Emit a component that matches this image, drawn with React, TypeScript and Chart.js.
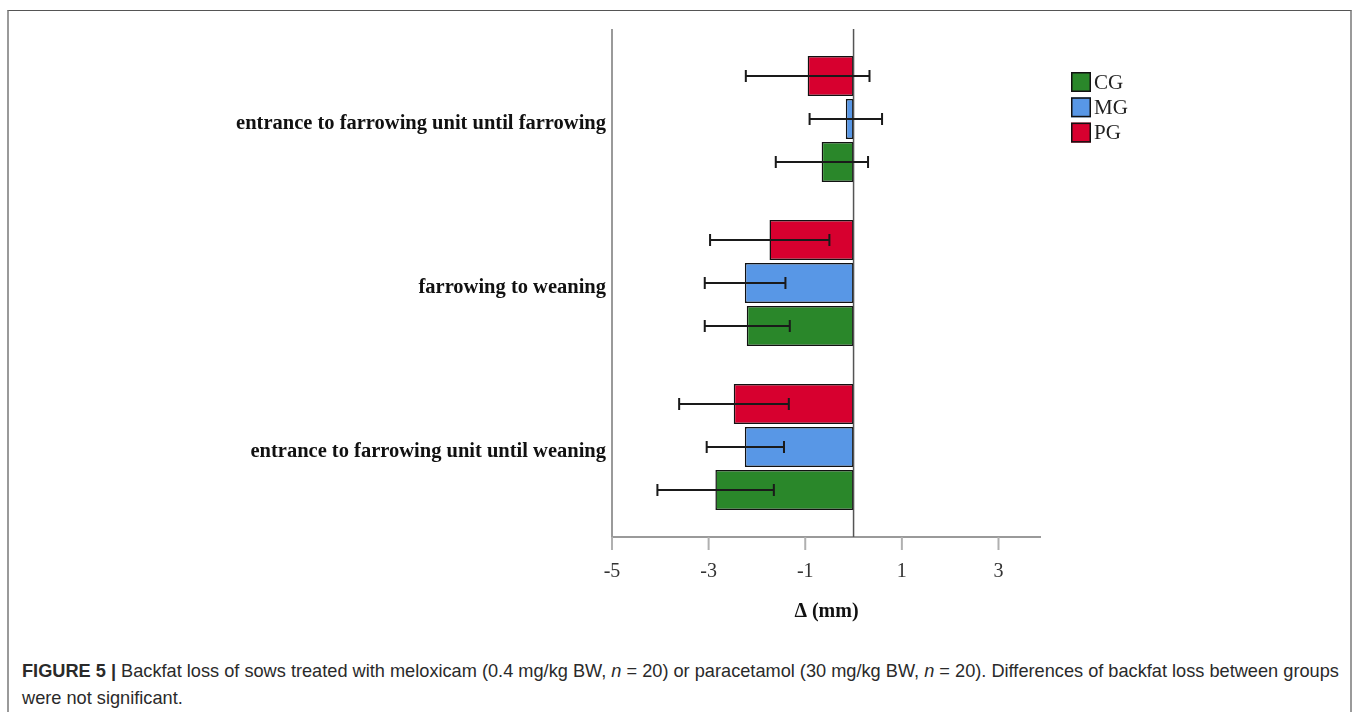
import React, { useEffect, useRef } from "react";
import { Chart, registerables } from "chart.js";

Chart.register(...registerables);

const categories = [
  "entrance to farrowing unit until farrowing",
  "farrowing to weaning",
  "entrance to farrowing unit until weaning",
];

const legendOrder = ["CG", "MG", "PG"];

const pgMean = [-0.95, -1.74, -2.48];
const pgLow = [-2.23, -2.97, -3.61];
const pgHigh = [0.33, -0.5, -1.34];

const mgMean = [-0.16, -2.25, -2.25];
const mgLow = [-0.91, -3.08, -3.04];
const mgHigh = [0.59, -1.41, -1.44];

const cgMean = [-0.66, -2.21, -2.86];
const cgLow = [-1.61, -3.08, -4.06];
const cgHigh = [0.3, -1.32, -1.65];

const xTicks = [-5, -3, -1, 1, 3];
const xMin = -5;
const xMax = 3.88;

const COLORS: Record<string, string> = {
  PG: "#D7002F",
  MG: "#5897E6",
  CG: "#2A872A",
};

const SERIF = '"Liberation Serif", "Times New Roman", serif';

const decorPlugin = {
  id: "decor",
  beforeDatasetsDraw(chart: any) {
    const ctx = chart.ctx;
    const ca = chart.chartArea;
    const xs = chart.scales.x;
    const top = ca.top - 8;
    const bottom = ca.bottom + 8;
    ctx.save();
    ctx.strokeStyle = "#9a9a9a";
    ctx.lineWidth = 2;
    ctx.beginPath();
    ctx.moveTo(ca.left, top);
    ctx.lineTo(ca.left, bottom);
    ctx.stroke();
    ctx.beginPath();
    ctx.moveTo(ca.left, bottom);
    ctx.lineTo(ca.right, bottom);
    ctx.stroke();
    ctx.strokeStyle = "#b0b0b0";
    xTicks.forEach((v) => {
      const px = xs.getPixelForValue(v);
      ctx.beginPath();
      ctx.moveTo(px, bottom);
      ctx.lineTo(px, bottom + 13);
      ctx.stroke();
    });
    ctx.restore();
  },
  afterDatasetsDraw(chart: any) {
    const ctx = chart.ctx;
    const ca = chart.chartArea;
    const xs = chart.scales.x;
    const top = ca.top - 8;
    const bottom = ca.bottom + 8;
    ctx.save();
    const zx = xs.getPixelForValue(0);
    ctx.strokeStyle = "#555";
    ctx.lineWidth = 1.5;
    ctx.beginPath();
    ctx.moveTo(zx, top);
    ctx.lineTo(zx, bottom);
    ctx.stroke();
    ctx.strokeStyle = "#1a1a1a";
    ctx.lineWidth = 2;
    chart.data.datasets.forEach((ds: any, di: number) => {
      const meta = chart.getDatasetMeta(di);
      meta.data.forEach((el: any, i: number) => {
        const y = el.y;
        const x1 = xs.getPixelForValue(ds.errLow[i]);
        const x2 = xs.getPixelForValue(ds.errHigh[i]);
        ctx.beginPath();
        ctx.moveTo(x1, y);
        ctx.lineTo(x2, y);
        ctx.moveTo(x1, y - 6);
        ctx.lineTo(x1, y + 6);
        ctx.moveTo(x2, y - 6);
        ctx.lineTo(x2, y + 6);
        ctx.stroke();
      });
    });
    const lx = 1071;
    let ly = 72;
    ctx.font = "21px " + SERIF;
    ctx.textBaseline = "middle";
    ctx.textAlign = "left";
    legendOrder.forEach((name) => {
      ctx.fillStyle = COLORS[name];
      ctx.fillRect(lx, ly, 20, 20);
      ctx.strokeStyle = "#111";
      ctx.lineWidth = 1.5;
      ctx.strokeRect(lx + 0.75, ly + 0.75, 18.5, 18.5);
      ctx.fillStyle = "#222";
      ctx.fillText(name, lx + 23, ly + 11);
      ly += 25.3;
    });
    ctx.restore();
  },
};

function makeDataset(label: string, data: number[], low: number[], high: number[]) {
  return {
    label,
    data,
    errLow: low,
    errHigh: high,
    backgroundColor: COLORS[label],
    borderColor: "#111",
    borderWidth: 1.5,
    borderSkipped: false,
    categoryPercentage: 0.787,
    barPercentage: 0.93,
  } as any;
}

export default function App() {
  const ref = useRef<HTMLCanvasElement>(null);

  useEffect(() => {
    const chart = new Chart(ref.current as HTMLCanvasElement, {
      type: "bar",
      data: {
        labels: categories,
        datasets: [
          makeDataset("PG", pgMean, pgLow, pgHigh),
          makeDataset("MG", mgMean, mgLow, mgHigh),
          makeDataset("CG", cgMean, cgLow, cgHigh),
        ],
      },
      options: {
        indexAxis: "y",
        animation: false,
        responsive: true,
        maintainAspectRatio: false,
        layout: { padding: { top: 37, right: 317, left: 0, bottom: 0 } },
        plugins: {
          legend: { display: false },
          tooltip: { enabled: false },
        },
        scales: {
          x: {
            type: "linear",
            min: xMin,
            max: xMax,
            afterBuildTicks: (s: any) => {
              s.ticks = xTicks.map((v) => ({ value: v }));
            },
            afterFit: (s: any) => {
              s.height = 111;
            },
            grid: { display: false, drawTicks: false },
            border: { display: false },
            ticks: {
              padding: 31,
              color: "#333",
              font: { family: SERIF, size: 20 },
              callback: (v: any) => String(v),
            },
            title: {
              display: true,
              text: "Δ (mm)",
              color: "#111",
              font: { family: SERIF, size: 20, weight: "bold" },
              padding: { top: 0, bottom: 16 },
            },
          },
          y: {
            type: "category",
            afterFit: (s: any) => {
              s.width = 612;
            },
            grid: { display: false, drawTicks: false },
            border: { display: false },
            ticks: {
              padding: 6,
              color: "#111",
              font: { family: SERIF, size: 20.5, weight: "bold", lineHeight: "9px" },
              callback: (_v: any, i: number) => ["", categories[i]],
            },
          },
        },
      } as any,
      plugins: [decorPlugin],
    });
    return () => chart.destroy();
  }, []);

  return (
    <div
      style={{
        position: "fixed",
        left: 0,
        top: 0,
        width: 1358,
        height: 712,
        background: "#fff",
        overflow: "hidden",
      }}
    >
      <div
        style={{
          position: "absolute",
          left: 7,
          top: 10,
          width: 1345,
          height: 720,
          borderTop: "1px solid #555",
          borderLeft: "2px solid #9a9a9a",
          borderRight: "2px solid #9a9a9a",
          boxSizing: "border-box",
        }}
      />
      <div style={{ position: "absolute", left: 0, top: 0, width: 1358, height: 640 }}>
        <canvas ref={ref} />
      </div>
      <div
        style={{
          position: "absolute",
          left: 22,
          top: 658,
          fontFamily: '"Liberation Sans", Arial, sans-serif',
          fontSize: 18.2,
          lineHeight: "27px",
          color: "#2a2a2a",
          whiteSpace: "nowrap",
        }}
      >
        <b>FIGURE 5 |</b> Backfat loss of sows treated with meloxicam (0.4 mg/kg BW, <i>n</i> = 20) or
        paracetamol (30 mg/kg BW, <i>n</i> = 20). Differences of backfat loss between groups
        <br />
        were not significant.
      </div>
    </div>
  );
}
